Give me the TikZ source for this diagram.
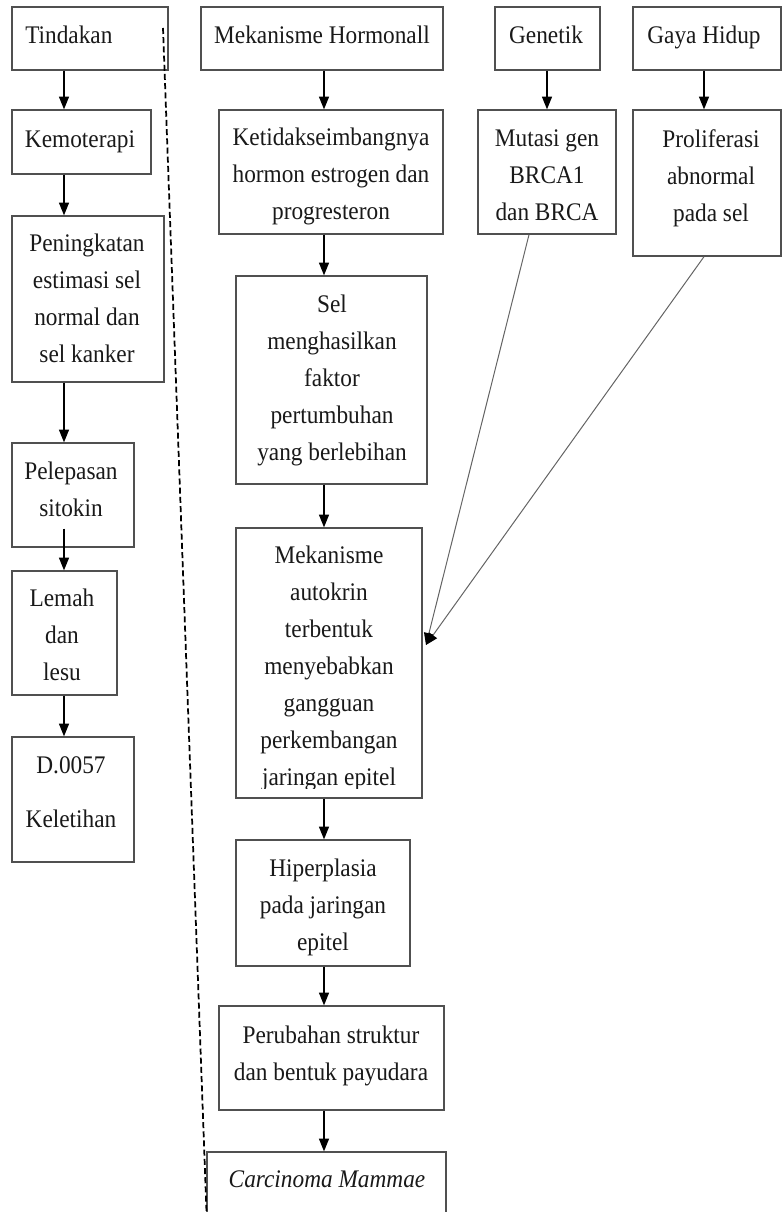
\documentclass[tikz,border=0pt]{standalone}
\usepackage{fontspec}
\setmainfont{Liberation Serif}[FakeStretch=0.92]
\usetikzlibrary{arrows.meta,calc,fit}
\definecolor{boxgray}{RGB}{80,80,80}
\definecolor{diaggray}{RGB}{100,100,100}
\definecolor{txtcol}{RGB}{25,25,25}
\begin{document}
\begin{tikzpicture}[x=0.75pt,y=-0.75pt,
  box/.style={draw=boxgray, line width=1pt, inner sep=0pt, fit={#1}},
  txt/.style={inner sep=0pt, align=center, anchor=north, text=txtcol,
              font=\fontsize{19}{27.75}\selectfont},
  arr/.style={draw=black, line width=0.85pt, -{Triangle[length=9.5pt,width=7.5pt]}},
  diag/.style={draw=diaggray, line width=0.75pt, -{Triangle[length=9pt,width=7.5pt,color=black,fill=black]}},
  sep/.style={draw=black, line width=1.3pt, dash pattern=on 4.5pt off 2.4pt}]
\useasboundingbox (0,0) rectangle (782,1212);
% column coordinates
\coordinate (cL) at (64,0);
\coordinate (cM) at (324,0);
\coordinate (cG) at (547,0);
\coordinate (cH) at (704,0);
% boxes
\node[box={(12,7) (168,70)}] (tin) {};
\node[box={(12,110) (151,174)}] (kem) {};
\node[box={(12,216) (164,382)}] (pen) {};
\node[box={(12,443) (134,547)}] (pel) {};
\node[box={(12,571) (117,695)}] (lem) {};
\node[box={(12,737) (134,862)}] (dia) {};
\node[box={(201,7) (443,70)}] (hor) {};
\node[box={(219,110) (443,234)}] (ket) {};
\node[box={(236,276) (427,484)}] (sel) {};
\node[box={(236,528) (422,798)}] (aut) {};
\node[box={(236,840) (410,966)}] (hip) {};
\node[box={(219,1006) (444,1110)}] (per) {};
\node[box={(207,1152) (446,1240)}] (car) {};
\node[box={(495,7) (600,70)}] (gen) {};
\node[box={(478,110) (616,234)}] (mut) {};
\node[box={(633,7) (781,70)}] (gay) {};
\node[box={(633,110) (781,256)}] (pro) {};
% texts
\node[txt, anchor=north west] (tinT) at (25,26) {Tindakan};
\node[txt] (kemT) at (80,130) {Kemoterapi};
\node[txt] (penT) at (87,234) {Peningkatan\\estimasi sel\\normal dan\\sel kanker};
\node[txt] (pelT) at (71,462) {Pelepasan\\sitokin};
\node[txt] (lemT) at (62,589) {Lemah\\dan\\lesu};
\node[txt] (diaT) at (71,756) {D.0057\\[12.75pt]Keletihan};
\node[txt] (horT) at (322,26) {Mekanisme Hormonall};
\node[txt] (ketT) at (331,128) {Ketidakseimbangnya\\hormon estrogen dan\\progresteron};
\node[txt] (selT) at (332,295) {Sel\\menghasilkan\\faktor\\pertumbuhan\\yang berlebihan};
\begin{scope}
  \clip (236,528) rectangle (422,788);
  \node[txt] (autT) at (329,546) {Mekanisme\\autokrin\\terbentuk\\menyebabkan\\gangguan\\perkembangan\\jaringan epitel};
\end{scope}
\node[txt] (hipT) at (323,859) {Hiperplasia\\pada jaringan\\epitel};
\node[txt] (perT) at (331,1026) {Perubahan struktur\\dan bentuk payudara};
\node[txt, font=\fontsize{19}{27.75}\selectfont\itshape] (carT) at (327,1170) {Carcinoma Mammae};
\node[txt] (genT) at (546,26) {Genetik};
\node[txt] (mutT) at (547,129) {Mutasi gen\\BRCA1\\dan BRCA};
\node[txt] (gayT) at (704,26) {Gaya Hidup};
\node[txt] (proT) at (711,129) {Proliferasi\\abnormal\\pada sel};
% left column arrows
\draw[arr] (tin.south -| cL) -- (kem.north -| cL);
\draw[arr] (kem.south -| cL) -- (pen.north -| cL);
\draw[arr] (pen.south -| cL) -- (pel.north -| cL);
\draw[arr] ($(pel.south -| cL)+(0,-19)$) -- (lem.north -| cL);
\draw[arr] (lem.south -| cL) -- (dia.north -| cL);
% middle column arrows
\draw[arr] (hor.south -| cM) -- (ket.north -| cM);
\draw[arr] (ket.south -| cM) -- (sel.north -| cM);
\draw[arr] (sel.south -| cM) -- (aut.north -| cM);
\draw[arr] (aut.south -| cM) -- (hip.north -| cM);
\draw[arr] (hip.south -| cM) -- (per.north -| cM);
\draw[arr] (per.south -| cM) -- (car.north -| cM);
% right columns
\draw[arr] (gen.south -| cG) -- (mut.north -| cG);
\draw[arr] (gay.south -| cH) -- (pro.north -| cH);
% converging lines
\coordinate (tip) at (426,645);
\draw[diag] ($(mut.south)+(-18,0)$) -- (tip);
\draw[diag] ($(pro.south)+(-3,0)$) -- (tip);
% dashed separator
\coordinate (dTop) at (163,28);
\coordinate (dBot) at (206.5,1212);
\draw[sep] (dTop) -- (dBot);
\end{tikzpicture}
\end{document}
